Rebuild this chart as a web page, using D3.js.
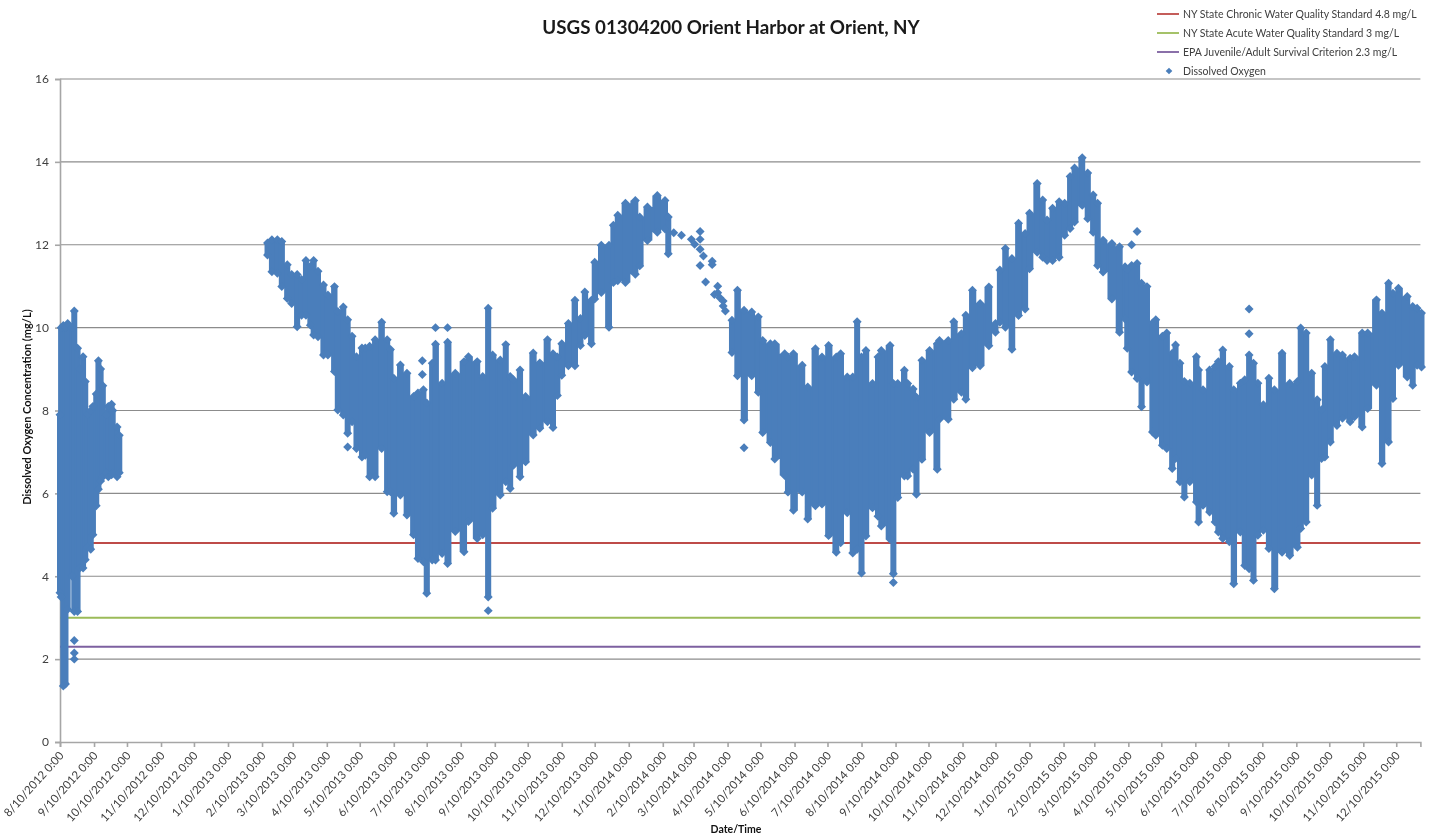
<!DOCTYPE html>
<html><head><meta charset="utf-8"><title>USGS 01304200 Orient Harbor at Orient, NY</title>
<script src="https://cdn.jsdelivr.net/npm/d3@7"></script>
<style>html,body{margin:0;background:#fff}svg{display:block;filter:blur(0.35px)}text{font-family:Lato,"Open Sans",sans-serif}</style>
</head><body><svg id="c" width="1432" height="837"></svg>
<script>
const chartTitle = "USGS 01304200 Orient Harbor at Orient, NY";
const xTitle = "Date/Time";
const yTitle = "Dissolved Oxygen Concentration  (mg/L)";
const yTicks = [0,2,4,6,8,10,12,14,16];
const standardNames = ["NY State Chronic Water Quality Standard 4.8 mg/L","NY State Acute Water Quality Standard 3 mg/L","EPA Juvenile/Adult Survival Criterion 2.3 mg/L"];
const standardValues = [4.8,3,2.3];
const standardColors = ["#be4b48","#9bbb59","#7d60a0"];
const pointName = "Dissolved Oxygen";
const pointColor = "#4a7ebb";
// days since 10 Aug 2012, with lowest and highest dissolved oxygen seen around that day
const obsDay = [0,1,3,5,7,11,13,16,18,21,23,25,28,30,33,35,37,39,42,44,47,48,52,54,
189,193,198,202,207,211,216,220,224,228,231,235,240,244,250,253,258,262,266,270,275,278,282,287,293,298,301,304,310,316,322,326,331,334,339,342,348,353,360,368,372,380,385,390,394,401,406,410,413,419,424,431,437,444,449,453,457,463,469,474,478,484,487,493,500,504,508,515,524,528,535,544,551,554,
612,617,623,630,636,640,647,651,660,663,668,676,681,688,694,700,707,711,717,722,726,730,734,740,745,748,756,759,763,769,772,777,780,785,792,799,801,809,814,821,825,831,838,846,852,856,861,867,873,879,883,890,895,899,904,910,915,920,924,931,936,941,945,950,958,965,970,972,976,981,985,990,995,998,1004,1008,1013,1016,1020,1024,1029,1035,1037,1041,1047,1052,1055,1059,1065,1069,1075,1079,1083,1087,1091,1096,1101,1106,1113,1120,1127,1130,1135,1140,1145,1149,1152,1157,1163,1168,1175,1179,1186,1191,1199,1204,1210,1214,1219,1227,1232,1236,1240];
const obsLow = [3.6,3.5,1.35,1.4,3.2,4.0,3.15,3.15,4.2,4.2,4.4,4.7,4.65,5.0,5.7,6.1,6.3,6.4,6.5,6.4,6.45,6.5,6.4,6.5,
11.75,11.35,11.31,10.99,10.7,10.58,10.02,10.3,10.3,10.06,9.82,9.78,9.34,9.34,8.94,8.01,7.89,7.45,7.73,7.08,6.88,6.92,6.4,6.4,7.08,6.04,6.04,5.52,5.96,5.48,5.0,4.43,4.35,3.59,4.39,4.39,4.55,4.31,5.08,4.59,5.32,4.91,5.0,3.5,5.64,5.96,6.28,6.12,6.68,6.4,6.76,7.41,7.57,7.73,7.59,8.36,8.85,9.08,9.08,9.57,9.81,9.61,10.69,10.85,10.01,11.09,11.13,11.09,11.29,11.49,12.1,12.3,12.38,11.78,
9.4,8.84,7.77,8.84,8.44,7.47,7.23,6.83,6.43,6.03,5.59,6.03,5.38,5.7,5.74,4.98,4.58,4.81,5.53,4.56,4.65,4.08,4.97,5.65,5.45,5.21,4.89,4.06,5.9,6.42,6.42,6.58,5.98,6.82,7.47,6.58,7.79,7.79,8.27,8.44,8.27,9.03,9.08,9.56,9.89,10.13,10.01,9.48,10.29,10.45,11.42,11.82,11.7,11.62,11.62,11.7,12.23,12.39,12.55,12.95,12.63,12.3,11.5,11.34,10.69,9.89,10.21,9.5,8.93,8.77,8.09,8.69,7.48,7.4,7.16,7.08,6.6,6.84,6.28,5.91,6.28,5.79,5.31,5.71,5.55,5.31,5.07,4.91,4.83,3.82,5.07,4.26,4.18,3.9,4.99,5.11,4.67,3.7,4.58,4.5,4.7,5.15,5.31,6.44,5.71,6.84,6.88,7.24,7.64,7.81,7.73,7.85,7.6,8.05,8.61,6.72,7.24,8.29,9.09,8.81,8.61,9.09,9.05];
const obsHigh = [7.9,10.0,10.05,10.0,10.1,10.0,10.4,9.5,9.0,9.3,8.7,7.9,8.0,8.1,8.4,9.2,9.0,8.6,7.9,8.1,8.15,8.0,7.6,7.4,
12.04,12.12,12.12,12.08,11.52,11.28,11.28,11.16,11.62,11.48,11.62,11.36,11.03,10.79,10.99,10.39,10.5,10.19,9.79,9.3,9.51,9.51,9.55,9.71,10.13,9.71,9.47,8.78,9.1,8.9,8.34,8.42,8.5,8.18,9.14,9.6,8.66,9.65,8.9,9.18,9.3,9.18,8.82,10.47,9.34,9.22,9.59,8.82,8.74,8.98,8.34,9.39,9.15,9.71,9.37,9.29,9.61,10.1,10.66,10.22,10.86,10.66,11.58,11.99,11.99,12.47,12.71,13.0,13.07,12.67,12.91,13.19,13.07,12.67,
10.18,10.9,10.42,10.38,10.26,9.69,9.61,9.61,9.37,9.29,9.37,9.09,8.57,9.49,9.29,9.57,9.29,9.37,8.81,8.81,10.14,9.29,9.45,8.65,9.29,9.45,9.57,8.65,8.65,8.97,8.65,8.52,8.32,9.21,9.45,9.61,9.69,9.69,10.14,9.85,10.3,10.9,10.58,10.98,10.1,11.39,11.91,11.67,12.52,12.27,12.76,13.48,13.08,12.6,12.88,13.04,13.0,13.65,13.85,14.1,13.73,13.2,13.0,12.11,12.03,11.95,11.47,11.4,11.5,11.55,11.07,10.99,10.11,10.19,9.79,9.87,9.38,9.58,9.14,8.7,8.66,9.3,8.98,8.5,8.98,9.06,9.18,9.46,9.06,8.5,8.66,8.74,9.34,9.14,8.66,8.14,8.78,8.5,9.38,8.66,8.7,9.99,9.87,8.9,8.26,8.02,9.06,9.71,9.38,9.34,9.26,9.3,9.87,9.87,10.67,10.35,11.07,10.83,10.95,10.75,10.51,10.47,10.35];
// single readings standing apart from the mass of points
const loneDay = [13,13,13,262,330,330,342,353,390,559,566,575,583,583,578,583,586,583,594,594,588,599,599,596,601,604,604,606,623,759,976,981,1083,1083];
const loneValue = [2.45,2.15,2.0,7.12,9.2,8.87,10.0,10.0,3.17,12.29,12.23,12.13,12.32,12.13,12.01,11.89,11.73,11.5,11.6,11.52,11.1,11.0,10.84,10.8,10.72,10.64,10.52,10.4,7.1,3.85,12.0,12.32,10.45,9.85];

const start = new Date(Date.UTC(2012,7,10));
const end = new Date(Date.UTC(2016,0,1));
const toDate = d => d3.utcDay.offset(start, Math.round(d));
const x = d3.scaleUtc().domain([start,end]).range([60,1420.4]);
const y = d3.scaleLinear().domain([0,16]).range([742,79]);
const svg = d3.select("#c");

// grid
svg.append("g").selectAll("line").data(yTicks.filter(t=>t>0)).join("line")
  .attr("x1",x.range()[0]).attr("x2",x.range()[1]).attr("y1",d=>y(d)).attr("y2",d=>y(d))
  .attr("stroke","#8c8c8c").attr("stroke-width",1.2);

// axes
const yAxis = d3.axisLeft(y).tickValues(yTicks).tickSize(5).tickPadding(6);
const gy = svg.append("g").attr("transform","translate(60,0)").call(yAxis);
gy.selectAll("text").attr("font-size",12).attr("fill","#404040");
gy.selectAll("line,path").attr("stroke","#a6a6a6").attr("stroke-width",1.6);

const monthTicks = d3.utcMonth.range(new Date(Date.UTC(2012,7,1)),new Date(Date.UTC(2015,11,2))).map(m=>d3.utcDay.offset(m,9));
const fmt = d => `${d.getUTCMonth()+1}/${d.getUTCDate()}/${d.getUTCFullYear()} 0:00`;
const xAxis = d3.axisBottom(x).tickValues(monthTicks).tickFormat(fmt).tickSizeOuter(0).tickSize(5);
const gx = svg.append("g").attr("transform","translate(0,742)").call(xAxis);
gx.selectAll("line,path").attr("stroke","#a6a6a6").attr("stroke-width",1.6);
gx.selectAll("text").attr("font-size",11.5).attr("fill","#404040").attr("text-anchor","end")
  .attr("dx",0).attr("dy",0).attr("y",0).attr("x",0)
  .attr("transform","translate(4,14) rotate(-48)");

// standards
svg.append("g").selectAll("line").data(standardValues).join("line")
  .attr("x1",x.range()[0]).attr("x2",x.range()[1]).attr("y1",d=>y(d)).attr("y2",d=>y(d))
  .attr("stroke",(d,i)=>standardColors[i]).attr("stroke-width",2);

// observations: one run per continuous stretch of record
const rows = obsDay.map((d,i)=>({d,lo:obsLow[i],hi:obsHigh[i]}));
const runs = [];
rows.forEach((r,i)=>{ if(i===0||r.d-rows[i-1].d>20) runs.push([]); runs[runs.length-1].push(r); });
const band = d3.area().curve(d3.curveStep).x(r=>x(toDate(r.d))).y0(r=>y(r.lo)).y1(r=>y(r.hi));
svg.append("g").selectAll("path").data(runs).join("path").attr("d",band).attr("fill",pointColor);
// a column of readings stands as wide as its diamonds
svg.append("g").selectAll("line").data(rows).join("line")
  .attr("x1",r=>x(toDate(r.d))).attr("x2",r=>x(toDate(r.d))).attr("y1",r=>y(r.lo)).attr("y2",r=>y(r.hi))
  .attr("stroke",pointColor).attr("stroke-width",6);
const diamond = d3.symbol().type(d3.symbolSquare).size(40);
const marks = svg.append("g").attr("fill",pointColor);
const put = pts => marks.selectAll(null).data(pts).join("path").attr("d",diamond)
  .attr("transform",p=>`translate(${x(toDate(p[0]))},${y(p[1])}) rotate(45)`);
put(rows.flatMap(r=>[[r.d,r.lo],[r.d,r.hi]]));
put(loneDay.map((d,i)=>[d,loneValue[i]]));

// titles
svg.append("text").attr("x",731).attr("y",34).attr("text-anchor","middle").attr("font-size",18.8).attr("font-weight",700).attr("fill","#1a1a1a").text(chartTitle);
svg.append("text").attr("x",736).attr("y",833).attr("text-anchor","middle").attr("font-size",10.5).attr("font-weight",700).attr("fill","#111").text(xTitle);
svg.append("text").attr("transform","translate(31,407) rotate(-90)").attr("text-anchor","middle").attr("font-size",11).attr("font-weight",700).attr("fill","#111").text(yTitle);

// legend
const lg = svg.append("g");
const rowY = i => 14 + i*19;
lg.selectAll("line").data(standardNames).join("line").attr("x1",1157).attr("x2",1179).attr("y1",(d,i)=>rowY(i)).attr("y2",(d,i)=>rowY(i)).attr("stroke",(d,i)=>standardColors[i]).attr("stroke-width",1.8);
lg.selectAll("text").data([...standardNames,pointName]).join("text").attr("x",1183).attr("y",(d,i)=>rowY(i)+4).attr("font-size",10.5).attr("fill","#404040").text(d=>d);
lg.append("path").attr("d",d3.symbol().type(d3.symbolSquare).size(22)).attr("fill",pointColor).attr("transform",`translate(1169,${rowY(3)}) rotate(45)`);
</script></body></html>
